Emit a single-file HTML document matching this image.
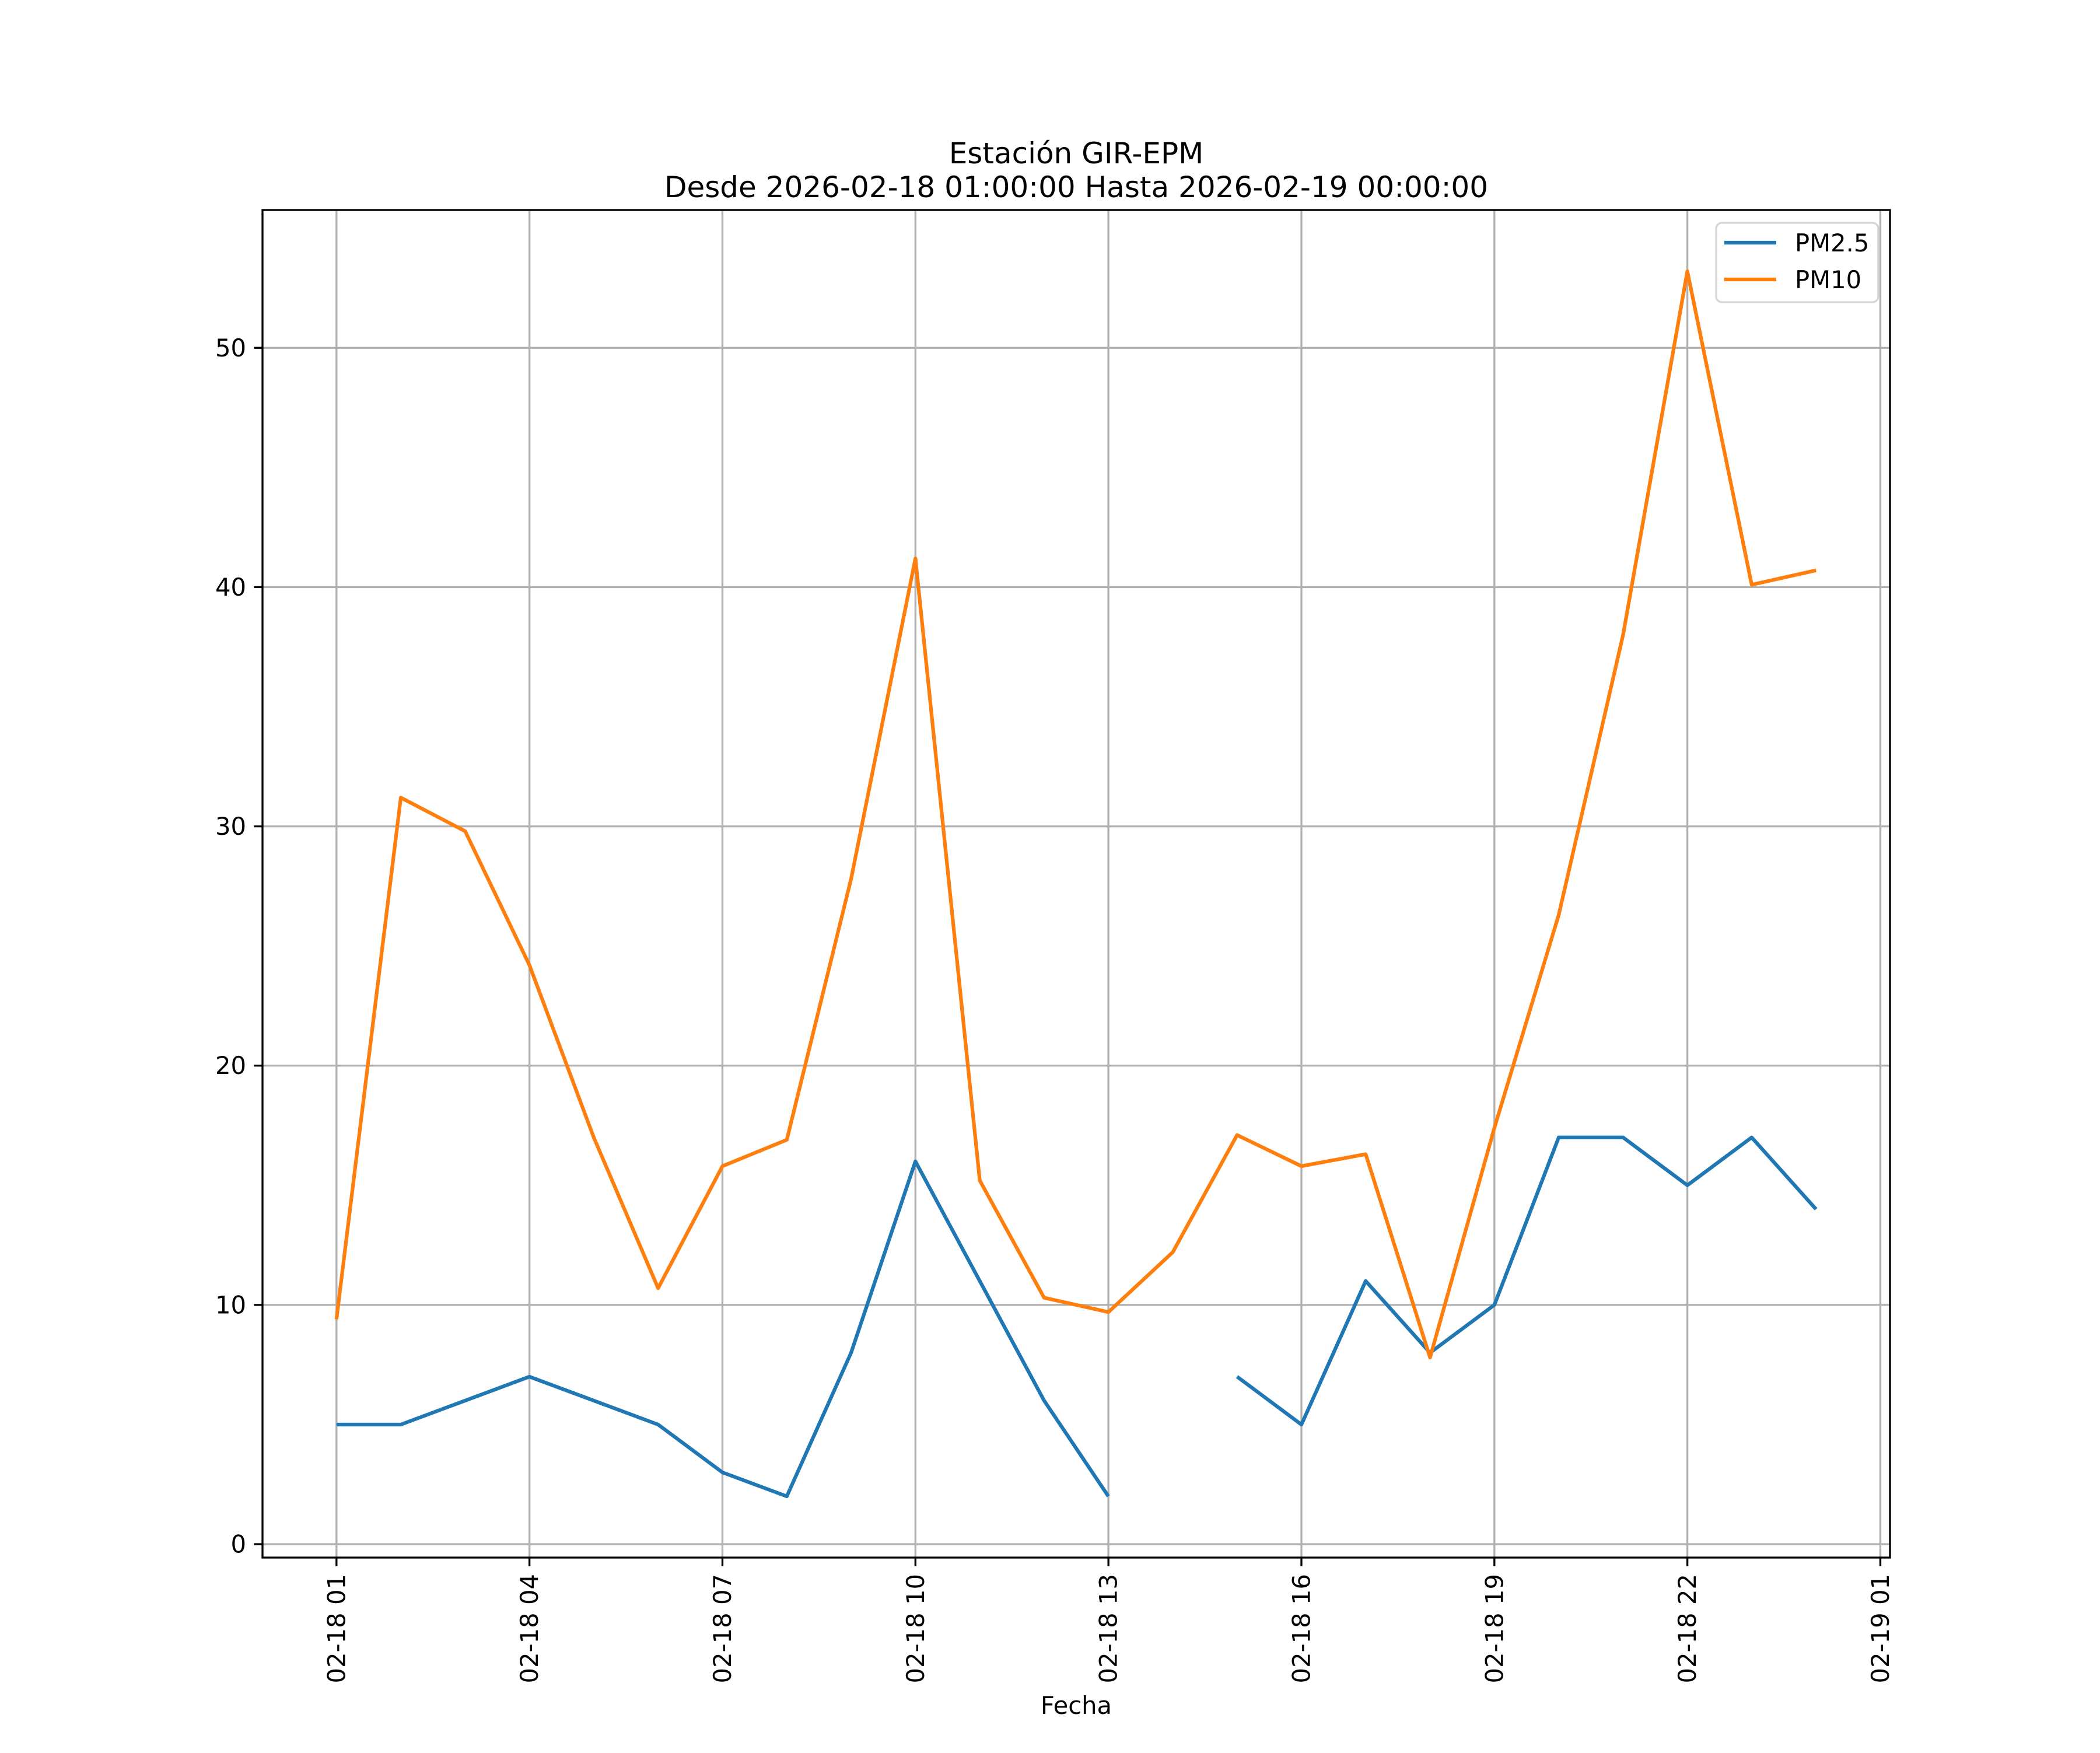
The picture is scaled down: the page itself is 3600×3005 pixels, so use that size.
<!DOCTYPE html>
<html><head><meta charset="utf-8"><style>body{margin:0;background:#fff}text{font-family:"DejaVu Sans","Liberation Sans",sans-serif}</style></head>
<body>
<svg id="chart" width="3600" height="3000" viewBox="0 0 3600 3000" xmlns="http://www.w3.org/2000/svg">
<rect width="3600" height="3000" fill="#fff"/>
<g id="grid"></g>
<g id="series"></g>
<rect x="450" y="360" width="2790" height="2310" fill="none" stroke="#000" stroke-width="3.33"/>
<g id="ticks"></g>
<text x="1845" y="280" font-size="50" text-anchor="middle">Estación GIR-EPM</text>
<text x="1845" y="338" font-size="50" text-anchor="middle">Desde 2026-02-18 01:00:00 Hasta 2026-02-19 00:00:00</text>
<text x="1845" y="2938" font-size="41.7" text-anchor="middle">Fecha</text>
<g>
<rect x="2942" y="382" width="278" height="136" rx="10" fill="#fff" fill-opacity="0.8" stroke="#d6d6d6" stroke-width="3.33"/>
<line x1="2956" y1="416" x2="3045" y2="416" stroke="#1f77b4" stroke-width="6.25"/>
<text x="3077" y="431" font-size="41.7">PM2.5</text>
<line x1="2956" y1="479" x2="3045" y2="479" stroke="#ff7f0e" stroke-width="6.25"/>
<text x="3077" y="494" font-size="41.7">PM10</text>
</g>
</svg>
<script>
const hours = [1,2,3,4,5,6,7,8,9,10,11,12,13,14,15,16,17,18,19,20,21,22,23,24];
const pm25 = [5,5,6,7,6,5,3,2,8,16,11,6,2,null,7,5,11,8,10,17,17,15,17,14];
const pm10 = [9.4,31.2,29.8,24.2,17,10.7,15.8,16.9,27.8,41.2,15.2,10.3,9.7,12.2,17.1,15.8,16.3,7.8,17.4,26.3,38,53.2,40.1,40.7];
const xTickHours = [1,4,7,10,13,16,19,22,25];
const xTickLabels = ["02-18 01","02-18 04","02-18 07","02-18 10","02-18 13","02-18 16","02-18 19","02-18 22","02-19 01"];
const yTicks = [0,10,20,30,40,50];
const L=450,R=3240,T=360,B=2670,X0=-0.15,X1=25.15,Y0=-0.56,Y1=55.76;
const xs=h=>L+(h-X0)/(X1-X0)*(R-L);
const ys=v=>B-(v-Y0)/(Y1-Y0)*(B-T);
const NS="http://www.w3.org/2000/svg";
function mk(tag,attrs,parent){const e=document.createElementNS(NS,tag);for(const k in attrs)e.setAttribute(k,attrs[k]);document.getElementById(parent).appendChild(e);return e;}
xTickHours.forEach((h,i)=>{const x=xs(h);
 const g=mk('line',{x1:x,x2:x,y1:T,y2:B,stroke:'#b0b0b0','stroke-width':3.33},'grid');
 
 
 const t=mk('line',{x1:x,x2:x,y1:B,y2:B+14.6,stroke:'#000','stroke-width':3.33},'ticks');
 
 
 const tx=mk('text',{x:0,y:0,'font-size':41.7,'text-anchor':'end','dominant-baseline':'central',transform:`translate(${x},${B+28}) rotate(-90)`},'ticks');
 tx.textContent=xTickLabels[i];
 
 
});
yTicks.forEach(v=>{const y=ys(v);
 const g=mk('line',{x1:L,x2:R,y1:y,y2:y,stroke:'#b0b0b0','stroke-width':3.33},'grid');
 
 
 const t=mk('line',{x1:L-14.6,x2:L,y1:y,y2:y,stroke:'#000','stroke-width':3.33},'ticks');
 
 
 const tx=mk('text',{x:L-28,y:y,'font-size':41.7,'text-anchor':'end','dominant-baseline':'central'},'ticks');
 tx.textContent=v;
 
 
});
function path(vals){let d='',pen=false;vals.forEach((v,i)=>{if(v===null){pen=false;return;}d+=(pen?'L':'M')+xs(hours[i]).toFixed(1)+' '+ys(v).toFixed(1)+' ';pen=true;});return d;}
const p1=mk('path',{d:path(pm25),fill:'none',stroke:'#1f77b4','stroke-width':6.25,'stroke-linejoin':'round'},'series');


const p2=mk('path',{d:path(pm10),fill:'none',stroke:'#ff7f0e','stroke-width':6.25,'stroke-linejoin':'round'},'series');


</script>
</body></html>
